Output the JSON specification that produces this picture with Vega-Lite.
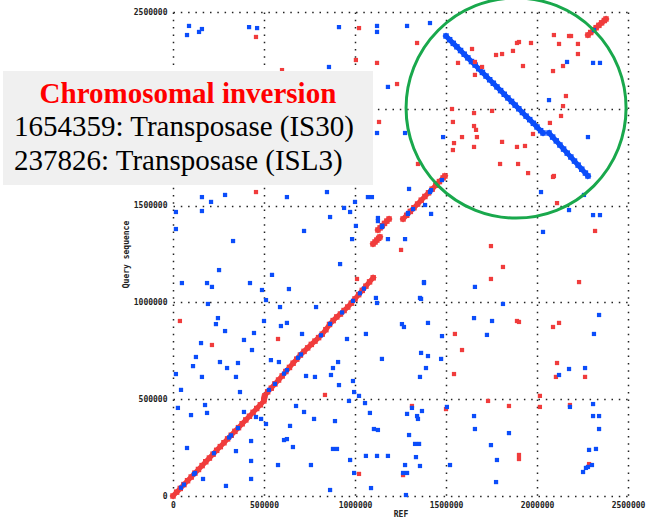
{
  "$schema": "https://vega.github.io/schema/vega-lite/v6.json",
  "width": 455,
  "height": 484,
  "autosize": {"type": "none"},
  "padding": {"left": 173, "top": 12, "right": 25, "bottom": 21},
  "background": "white",
  "config": {
    "view": {"stroke": null},
    "axis": {
      "domain": false, "ticks": false, "grid": true,
      "gridDash": [1.5, 5.8], "gridColor": "#222", "gridWidth": 1.5, "gridOpacity": 1,
      "labelFont": "DejaVu Sans Mono", "labelFontSize": 8, "labelFontWeight": "bold", "labelColor": "#222",
      "labelFlush": false, "labelOverlap": false,
      "titleFont": "DejaVu Sans Mono", "titleFontSize": 8, "titleFontWeight": "bold", "titleColor": "#222"
    }
  },
  "datasets": {
    "redline": [
      {"seg":"a","x":0,"y":0},{"seg":"a","x":20000,"y":20000},{"seg":"a","x":40000,"y":39000},{"seg":"a","x":60000,"y":59000},{"seg":"a","x":80000,"y":79000},{"seg":"a","x":100000,"y":98000},{"seg":"a","x":120000,"y":118000},{"seg":"a","x":140000,"y":137000},{"seg":"a","x":160000,"y":157000},{"seg":"a","x":180000,"y":177000},{"seg":"a","x":200000,"y":196000},{"seg":"a","x":220000,"y":216000},{"seg":"a","x":240000,"y":236000},{"seg":"a","x":260000,"y":255000},{"seg":"a","x":280000,"y":275000},{"seg":"a","x":300000,"y":295000},{"seg":"a","x":320000,"y":314000},{"seg":"a","x":340000,"y":334000},{"seg":"a","x":360000,"y":353000},{"seg":"a","x":380000,"y":373000},{"seg":"a","x":400000,"y":393000},{"seg":"a","x":420000,"y":412000},{"seg":"a","x":440000,"y":432000},{"seg":"a","x":460000,"y":452000},{"seg":"a","x":480000,"y":471000},{"seg":"a","x":499000,"y":491000},
      {"seg":"a","x":500000,"y":500000},{"seg":"a","x":502000,"y":510000},{"seg":"a","x":505000,"y":518000},
      {"seg":"a","x":520000,"y":538000},{"seg":"a","x":540000,"y":557000},{"seg":"a","x":560000,"y":579000},{"seg":"a","x":580000,"y":599000},{"seg":"a","x":600000,"y":620000},{"seg":"a","x":620000,"y":643000},{"seg":"a","x":640000,"y":664000},{"seg":"a","x":660000,"y":686000},{"seg":"a","x":680000,"y":707000},{"seg":"a","x":700000,"y":728000},{"seg":"a","x":720000,"y":747000},{"seg":"a","x":740000,"y":765000},{"seg":"a","x":760000,"y":783000},{"seg":"a","x":780000,"y":800000},{"seg":"a","x":800000,"y":818000},{"seg":"a","x":820000,"y":836000},{"seg":"a","x":840000,"y":859000},{"seg":"a","x":860000,"y":886000},{"seg":"a","x":880000,"y":906000},{"seg":"a","x":900000,"y":925000},{"seg":"a","x":920000,"y":940000},{"seg":"a","x":940000,"y":958000},{"seg":"a","x":960000,"y":976000},{"seg":"a","x":980000,"y":996000},{"seg":"a","x":1000000,"y":1018000},{"seg":"a","x":1020000,"y":1040000},{"seg":"a","x":1040000,"y":1062000},{"seg":"a","x":1060000,"y":1084000},{"seg":"a","x":1080000,"y":1106000},{"seg":"a","x":1100000,"y":1127000},
      {"seg":"c","x":1099000,"y":1302000},{"seg":"c","x":1110000,"y":1312000},{"seg":"c","x":1120000,"y":1322000},{"seg":"c","x":1130000,"y":1331000},{"seg":"c","x":1137000,"y":1338000},
      {"seg":"d","x":1126000,"y":1374000},{"seg":"d","x":1138000,"y":1385000},{"seg":"d","x":1150000,"y":1396000},{"seg":"d","x":1162000,"y":1408000},{"seg":"d","x":1175000,"y":1420000},{"seg":"d","x":1187000,"y":1431000},
      {"seg":"e","x":1264000,"y":1431000},{"seg":"e","x":1284000,"y":1450000},{"seg":"e","x":1304000,"y":1470000},{"seg":"e","x":1324000,"y":1489000},{"seg":"e","x":1344000,"y":1508000},{"seg":"e","x":1364000,"y":1528000},{"seg":"e","x":1384000,"y":1547000},{"seg":"e","x":1404000,"y":1566000},{"seg":"e","x":1424000,"y":1585000},{"seg":"e","x":1444000,"y":1605000},{"seg":"e","x":1464000,"y":1624000},{"seg":"e","x":1484000,"y":1643000},{"seg":"e","x":1494000,"y":1653000},
      {"seg":"f","x":2280000,"y":2381000},{"seg":"f","x":2295000,"y":2394000},{"seg":"f","x":2310000,"y":2406000},{"seg":"f","x":2325000,"y":2419000},{"seg":"f","x":2340000,"y":2431000},{"seg":"f","x":2355000,"y":2444000},{"seg":"f","x":2370000,"y":2456000},{"seg":"f","x":2379000,"y":2464000}
    ],
    "blueline": [
      {"seg":"g","x":1500000,"y":2376000},{"seg":"g","x":1520000,"y":2357000},{"seg":"g","x":1540000,"y":2338000},{"seg":"g","x":1560000,"y":2320000},{"seg":"g","x":1580000,"y":2301000},{"seg":"g","x":1600000,"y":2282000},{"seg":"g","x":1620000,"y":2263000},{"seg":"g","x":1640000,"y":2244000},{"seg":"g","x":1660000,"y":2226000},{"seg":"g","x":1680000,"y":2207000},{"seg":"g","x":1700000,"y":2188000},{"seg":"g","x":1720000,"y":2169000},{"seg":"g","x":1740000,"y":2150000},{"seg":"g","x":1760000,"y":2132000},{"seg":"g","x":1780000,"y":2113000},{"seg":"g","x":1800000,"y":2094000},{"seg":"g","x":1820000,"y":2075000},{"seg":"g","x":1840000,"y":2056000},{"seg":"g","x":1860000,"y":2038000},{"seg":"g","x":1880000,"y":2019000},{"seg":"g","x":1900000,"y":2000000},{"seg":"g","x":1920000,"y":1981000},{"seg":"g","x":1940000,"y":1962000},{"seg":"g","x":1960000,"y":1944000},{"seg":"g","x":1980000,"y":1925000},{"seg":"g","x":2000000,"y":1906000},{"seg":"g","x":2020000,"y":1887000},{"seg":"g","x":2033000,"y":1875000},
      {"seg":"h","x":2066000,"y":1875000},{"seg":"h","x":2086000,"y":1854000},{"seg":"h","x":2106000,"y":1834000},{"seg":"h","x":2126000,"y":1813000},{"seg":"h","x":2146000,"y":1792000},{"seg":"h","x":2166000,"y":1771000},{"seg":"h","x":2186000,"y":1751000},{"seg":"h","x":2206000,"y":1730000},{"seg":"h","x":2226000,"y":1709000},{"seg":"h","x":2246000,"y":1688000},{"seg":"h","x":2266000,"y":1668000},{"seg":"h","x":2280000,"y":1653000}
    ],
    "reddots": [
      {"x":456000,"y":2371000},{"x":1022000,"y":2417000},{"x":1005000,"y":2252000},{"x":1121000,"y":2237000},{"x":1231000,"y":2128000},{"x":1132000,"y":1932000},{"x":599000,"y":2200000},{"x":1341000,"y":2340000},{"x":1643000,"y":2309000},{"x":1775000,"y":2278000},{"x":1808000,"y":2283000},{"x":1868000,"y":2299000},{"x":1890000,"y":2340000},{"x":1901000,"y":2345000},{"x":1967000,"y":2340000},{"x":1566000,"y":2237000},{"x":1659000,"y":2242000},{"x":1698000,"y":2216000},{"x":1659000,"y":2175000},{"x":1923000,"y":2221000},{"x":2093000,"y":2381000},{"x":2176000,"y":2376000},{"x":2187000,"y":2376000},{"x":2121000,"y":2335000},{"x":2225000,"y":2335000},{"x":2225000,"y":2283000},{"x":2143000,"y":2221000},{"x":2088000,"y":2195000},{"x":2159000,"y":2066000},{"x":2143000,"y":2014000},{"x":2132000,"y":1963000},{"x":2071000,"y":1927000},{"x":1533000,"y":1999000},{"x":1753000,"y":1989000},{"x":1654000,"y":1978000},{"x":1538000,"y":1932000},{"x":1654000,"y":1911000},{"x":1665000,"y":1891000},{"x":1588000,"y":1854000},{"x":1670000,"y":1854000},{"x":1978000,"y":1870000},{"x":1544000,"y":1823000},{"x":1538000,"y":1787000},{"x":1654000,"y":1803000},{"x":1808000,"y":1829000},{"x":1890000,"y":1803000},{"x":1934000,"y":1808000},{"x":1797000,"y":1715000},{"x":1896000,"y":1715000},{"x":1951000,"y":1668000},{"x":2088000,"y":1648000},{"x":2093000,"y":1653000},{"x":1346000,"y":1715000},{"x":2110000,"y":1513000},{"x":2319000,"y":1369000},{"x":1747000,"y":1291000},{"x":1813000,"y":1183000},{"x":1747000,"y":1121000},{"x":2231000,"y":1105000},{"x":1890000,"y":904000},{"x":1901000,"y":899000},{"x":1549000,"y":837000},{"x":1588000,"y":754000},{"x":1544000,"y":630000},{"x":2121000,"y":894000},{"x":2088000,"y":873000},{"x":2110000,"y":687000},{"x":2104000,"y":615000},{"x":2264000,"y":615000},{"x":2016000,"y":517000},{"x":1731000,"y":491000},{"x":1846000,"y":465000},{"x":2016000,"y":460000},{"x":2181000,"y":470000},{"x":1313000,"y":465000},{"x":1500000,"y":449000},{"x":1253000,"y":1271000},{"x":1011000,"y":1121000},{"x":38000,"y":904000},{"x":214000,"y":780000},{"x":577000,"y":811000},{"x":835000,"y":522000},{"x":1022000,"y":114000},{"x":1264000,"y":108000},{"x":1901000,"y":212000},{"x":1901000,"y":191000},{"x":2286000,"y":165000},{"x":456000,"y":1570000}
    ],
    "bluedots": [
      {"x":88000,"y":2428000},{"x":77000,"y":2381000},{"x":143000,"y":2397000},{"x":159000,"y":2412000},{"x":418000,"y":2422000},{"x":462000,"y":2417000},{"x":912000,"y":2422000},{"x":1121000,"y":2428000},{"x":1121000,"y":2397000},{"x":857000,"y":2216000},{"x":1181000,"y":2113000},{"x":1121000,"y":1875000},{"x":1275000,"y":1875000},{"x":1286000,"y":2428000},{"x":1412000,"y":2443000},{"x":2165000,"y":2242000},{"x":2308000,"y":2237000},{"x":2346000,"y":2237000},{"x":2066000,"y":2045000},{"x":1484000,"y":1854000},{"x":2280000,"y":1854000},{"x":1478000,"y":1632000},{"x":1297000,"y":1586000},
      {"x":159000,"y":1544000},{"x":209000,"y":1519000},{"x":16000,"y":1467000},{"x":159000,"y":1472000},{"x":16000,"y":1379000},{"x":253000,"y":1167000},{"x":49000,"y":1100000},{"x":187000,"y":1100000},{"x":214000,"y":1080000},{"x":286000,"y":1555000},{"x":626000,"y":1544000},{"x":846000,"y":1570000},{"x":1071000,"y":1544000},{"x":1093000,"y":1544000},{"x":1000000,"y":1519000},{"x":940000,"y":1488000},{"x":973000,"y":1467000},{"x":863000,"y":1441000},{"x":1126000,"y":1436000},{"x":1126000,"y":1420000},{"x":1005000,"y":1395000},{"x":1148000,"y":1389000},{"x":1181000,"y":1327000},{"x":984000,"y":1327000},{"x":1275000,"y":1327000},{"x":918000,"y":1198000},{"x":1379000,"y":1100000},{"x":1385000,"y":1503000},{"x":1418000,"y":1457000},{"x":1291000,"y":1462000},{"x":1319000,"y":1482000},{"x":1412000,"y":1570000},{"x":1115000,"y":1023000},{"x":1357000,"y":1023000},{"x":544000,"y":1142000},{"x":423000,"y":1100000},{"x":489000,"y":1064000},{"x":637000,"y":1069000},{"x":511000,"y":1012000},{"x":588000,"y":976000},{"x":786000,"y":976000},{"x":500000,"y":904000},{"x":626000,"y":894000},{"x":593000,"y":878000},{"x":445000,"y":842000},{"x":709000,"y":837000},{"x":434000,"y":754000},{"x":956000,"y":811000},{"x":1060000,"y":837000},{"x":1121000,"y":997000},{"x":1148000,"y":708000},{"x":330000,"y":1317000},{"x":720000,"y":1369000},
      {"x":192000,"y":992000},{"x":247000,"y":919000},{"x":236000,"y":888000},{"x":286000,"y":852000},{"x":154000,"y":790000},{"x":390000,"y":806000},{"x":126000,"y":718000},{"x":110000,"y":671000},{"x":258000,"y":692000},{"x":297000,"y":661000},{"x":357000,"y":687000},{"x":16000,"y":630000},{"x":159000,"y":615000},{"x":346000,"y":615000},{"x":44000,"y":548000},{"x":368000,"y":537000},{"x":538000,"y":702000},{"x":582000,"y":692000},{"x":731000,"y":620000},{"x":780000,"y":615000},{"x":868000,"y":625000},{"x":879000,"y":661000},{"x":907000,"y":692000},{"x":912000,"y":573000},{"x":989000,"y":594000},{"x":995000,"y":537000},{"x":967000,"y":491000},{"x":1022000,"y":517000},{"x":1055000,"y":480000},{"x":1082000,"y":429000},{"x":1104000,"y":346000},{"x":1126000,"y":341000},{"x":1297000,"y":315000},{"x":1352000,"y":269000},{"x":1286000,"y":424000},{"x":1341000,"y":413000},{"x":1346000,"y":398000},{"x":1368000,"y":439000},{"x":1313000,"y":455000},{"x":1505000,"y":460000},{"x":1654000,"y":413000},{"x":1659000,"y":346000},{"x":1747000,"y":263000},{"x":1846000,"y":325000},{"x":2181000,"y":460000},{"x":2308000,"y":475000},{"x":2308000,"y":413000},{"x":2341000,"y":413000},{"x":2341000,"y":346000},{"x":2324000,"y":243000},{"x":1258000,"y":888000},{"x":1269000,"y":873000},{"x":676000,"y":465000},{"x":720000,"y":434000},{"x":775000,"y":398000},{"x":890000,"y":387000},{"x":643000,"y":362000},{"x":626000,"y":294000},{"x":659000,"y":253000},{"x":879000,"y":243000},{"x":901000,"y":243000},{"x":973000,"y":186000},{"x":758000,"y":160000},{"x":577000,"y":160000},{"x":863000,"y":31000},{"x":1060000,"y":207000},{"x":1121000,"y":207000},{"x":1181000,"y":207000},{"x":1275000,"y":160000},{"x":1286000,"y":119000},{"x":1088000,"y":41000},{"x":1280000,"y":5000},{"x":27000,"y":455000},{"x":176000,"y":470000},{"x":99000,"y":418000},{"x":187000,"y":429000},{"x":390000,"y":434000},{"x":456000,"y":408000},{"x":484000,"y":398000},{"x":511000,"y":372000},{"x":77000,"y":248000},{"x":346000,"y":232000},{"x":429000,"y":284000},{"x":429000,"y":181000},{"x":165000,"y":88000},{"x":429000,"y":88000},{"x":291000,"y":52000},{"x":610000,"y":289000},{"x":995000,"y":119000},{"x":1264000,"y":119000},{"x":1330000,"y":269000},{"x":1335000,"y":201000},{"x":1357000,"y":155000},{"x":1522000,"y":160000},{"x":1780000,"y":186000},{"x":1775000,"y":72000},{"x":2286000,"y":238000},{"x":2302000,"y":160000},{"x":2280000,"y":150000},{"x":2269000,"y":145000},{"x":2253000,"y":124000},
      {"x":2022000,"y":1570000},{"x":2258000,"y":1555000},{"x":2176000,"y":1477000},{"x":2308000,"y":1451000},{"x":2346000,"y":1451000},{"x":2033000,"y":1364000},{"x":1659000,"y":1080000},{"x":1379000,"y":1105000},{"x":1363000,"y":1018000},{"x":1813000,"y":992000},{"x":1654000,"y":919000},{"x":1753000,"y":904000},{"x":1401000,"y":894000},{"x":1478000,"y":826000},{"x":1725000,"y":832000},{"x":1363000,"y":739000},{"x":1401000,"y":723000},{"x":1473000,"y":708000},{"x":1390000,"y":661000},{"x":1357000,"y":615000},{"x":2341000,"y":935000},{"x":2313000,"y":837000},{"x":2176000,"y":656000},{"x":2264000,"y":661000},{"x":2121000,"y":625000},
      {"x":44000,"y":43000},{"x":60000,"y":59000},{"x":115000,"y":113000},{"x":121000,"y":119000},{"x":225000,"y":221000},{"x":308000,"y":302000},{"x":319000,"y":313000},{"x":357000,"y":351000},{"x":527000,"y":548000},{"x":560000,"y":579000},{"x":610000,"y":632000},{"x":626000,"y":650000},{"x":687000,"y":714000},{"x":703000,"y":731000},{"x":813000,"y":830000},{"x":863000,"y":889000},{"x":929000,"y":948000},{"x":989000,"y":1008000},{"x":1027000,"y":1047000},{"x":1049000,"y":1071000},{"x":1150000,"y":1396000},{"x":1291000,"y":1457000},{"x":1418000,"y":1580000},{"x":2313000,"y":2407000}
    ],
    "box": [{"x":-934000,"x2":1099000,"y":2195000,"y2":1606000}],
    "headline": [{"x":82000,"y":2030000,"label":"Chromosomal inversion"}],
    "lines": [
      {"x":-874000,"y":1860000,"label":"1654359: Transposase (IS30)"},
      {"x":-874000,"y":1684000,"label":"237826: Transposase (ISL3)"}
    ],
    "circle": [{"x":1885000,"y":2004000}]
  },
  "layer": [
    {
      "data": {"name": "redline"},
      "mark": {"type": "line", "color": "#f03c3c", "strokeWidth": 5, "strokeCap": "square", "opacity": 1},
      "encoding": {
        "x": {"field": "x", "type": "quantitative", "scale": {"domain": [0, 2500000], "nice": false, "zero": false},
              "axis": {"values": [0,500000,1000000,1500000,2000000,2500000], "format": "d", "title": "REF", "labelPadding": 5, "titlePadding": 1}},
        "y": {"field": "y", "type": "quantitative", "scale": {"domain": [0, 2500000], "nice": false, "zero": false},
              "axis": {"values": [0,500000,1000000,1500000,2000000,2500000], "format": "d", "title": "Query sequence", "labelPadding": 6, "titlePadding": 3}},
        "detail": {"field": "seg", "type": "nominal"}
      }
    },
    {
      "data": {"name": "redline"},
      "mark": {"type": "point", "shape": "square", "filled": true, "size": 30, "color": "#f03c3c", "opacity": 1, "strokeWidth": 0},
      "encoding": {
        "x": {"field": "x", "type": "quantitative"},
        "y": {"field": "y", "type": "quantitative"}
      }
    },
    {
      "data": {"name": "blueline"},
      "mark": {"type": "line", "color": "#0b4dfa", "strokeWidth": 5, "strokeCap": "square", "opacity": 1},
      "encoding": {
        "x": {"field": "x", "type": "quantitative"},
        "y": {"field": "y", "type": "quantitative"},
        "detail": {"field": "seg", "type": "nominal"}
      }
    },
    {
      "data": {"name": "blueline"},
      "mark": {"type": "point", "shape": "square", "filled": true, "size": 30, "color": "#0b4dfa", "opacity": 1, "strokeWidth": 0},
      "encoding": {
        "x": {"field": "x", "type": "quantitative"},
        "y": {"field": "y", "type": "quantitative"}
      }
    },
    {
      "data": {"name": "reddots"},
      "mark": {"type": "point", "shape": "square", "filled": true, "size": 18, "color": "#f03c3c", "opacity": 1, "strokeWidth": 0},
      "encoding": {
        "x": {"field": "x", "type": "quantitative"},
        "y": {"field": "y", "type": "quantitative"}
      }
    },
    {
      "data": {"name": "bluedots"},
      "mark": {"type": "point", "shape": "square", "filled": true, "size": 18, "color": "#0b4dfa", "opacity": 1, "strokeWidth": 0},
      "encoding": {
        "x": {"field": "x", "type": "quantitative"},
        "y": {"field": "y", "type": "quantitative"}
      }
    },
    {
      "data": {"name": "box"},
      "mark": {"type": "rect", "color": "#f0f0f0", "opacity": 1},
      "encoding": {
        "x": {"field": "x", "type": "quantitative"},
        "x2": {"field": "x2"},
        "y": {"field": "y", "type": "quantitative"},
        "y2": {"field": "y2"}
      }
    },
    {
      "data": {"name": "headline"},
      "mark": {"type": "text", "font": "Liberation Serif", "fontSize": 29, "fontWeight": "bold", "color": "#ff0000", "align": "center", "baseline": "alphabetic"},
      "encoding": {
        "x": {"field": "x", "type": "quantitative"},
        "y": {"field": "y", "type": "quantitative"},
        "text": {"field": "label"}
      }
    },
    {
      "data": {"name": "lines"},
      "mark": {"type": "text", "font": "Liberation Serif", "fontSize": 29, "color": "#000000", "align": "left", "baseline": "alphabetic"},
      "encoding": {
        "x": {"field": "x", "type": "quantitative"},
        "y": {"field": "y", "type": "quantitative"},
        "text": {"field": "label"}
      }
    },
    {
      "data": {"name": "circle"},
      "mark": {"type": "point", "shape": "circle", "filled": false, "size": 48400, "stroke": "#19a84c", "strokeWidth": 3, "opacity": 1},
      "encoding": {
        "x": {"field": "x", "type": "quantitative"},
        "y": {"field": "y", "type": "quantitative"}
      }
    }
  ]
}
